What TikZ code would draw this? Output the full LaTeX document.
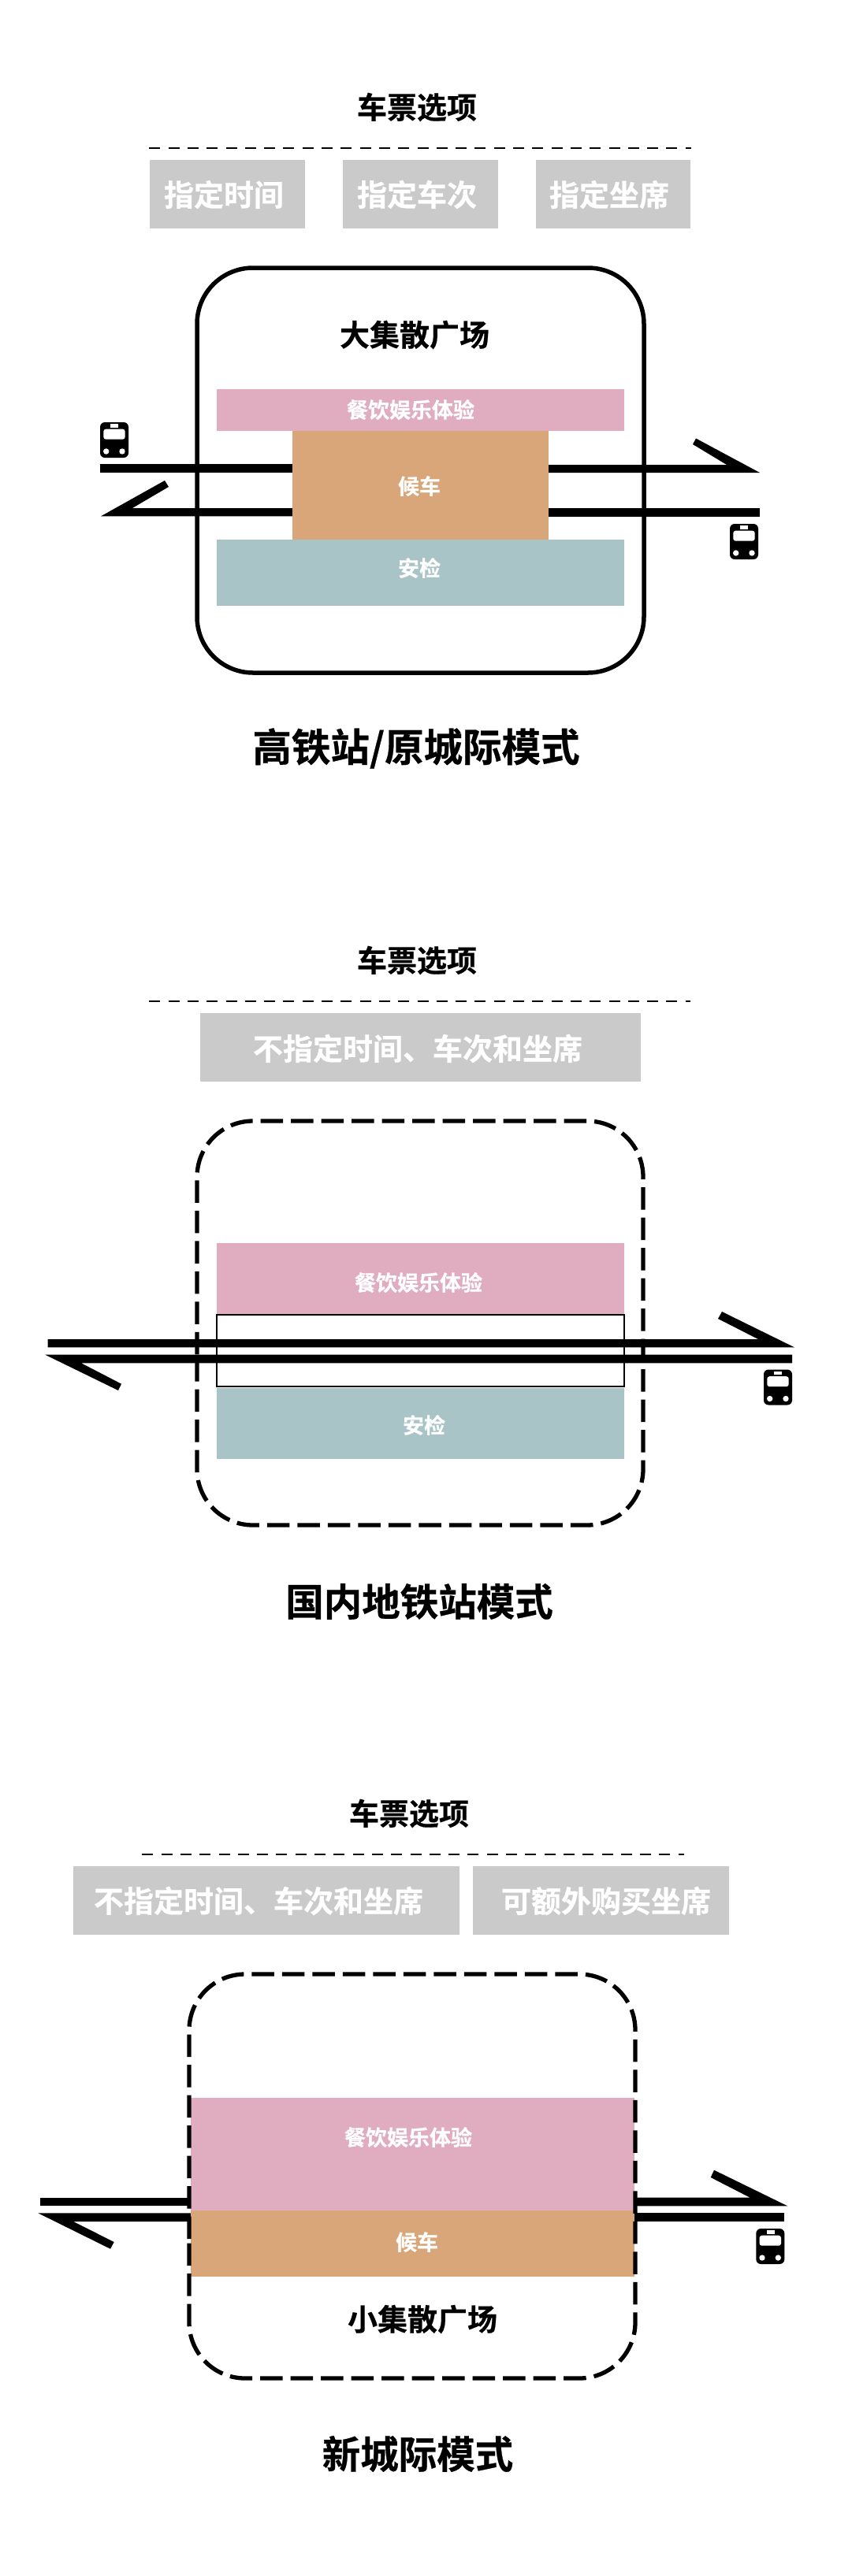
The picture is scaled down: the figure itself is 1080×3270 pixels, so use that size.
\documentclass[tikz,border=0pt]{standalone}
\usepackage{fontspec}
\setmainfont{Noto Sans CJK SC}[BoldFont=* Bold,BoldFeatures={FakeBold=0.5}]
\definecolor{pinkc}{HTML}{DFADBF}
\definecolor{orangec}{HTML}{D8A679}
\definecolor{tealc}{HTML}{A9C4C7}
\definecolor{grayc}{HTML}{CACACA}
\tikzset{
  x=1pt,y=-1pt,
  txt/.style={font=\fontsize{#1}{#1}\selectfont\bfseries,inner sep=0pt,anchor=center},
  blacktxt/.style={txt=#1,text=black},
  whitetxt/.style={txt=#1,text=white},
  optline/.style={line width=2.8pt,dash pattern=on 14pt off 10.3pt},
  solidframe/.style={line width=5.5pt,rounded corners=71pt},
  dashframe/.style={line width=5.3pt,rounded corners=71pt,dash pattern=on 28.5pt off 10pt},
  thinbox/.style={line width=2pt,draw=black,fill=white},
  trainicon/.pic={
    \fill[black,rounded corners=6pt] (0,0) rectangle (36,45);
    \fill[white] (13.3,2.3) rectangle (23.3,6.7);
    \fill[white,rounded corners=3pt] (4.3,8.7) rectangle (31.7,21.7);
    \fill[white] (7.7,37) circle (3.7);
    \fill[white] (28,37) circle (3.7);
  }
}
\begin{document}
\begin{tikzpicture}
\useasboundingbox (0,0) rectangle (1080,3270);
\fill[white] (0,0) rectangle (1080,3270);

% ---------- Section 1
\node[blacktxt=38] (t1) at (529,136) {车票选项};
\draw[optline] (189.3,188) -- (877,188);
\fill[grayc] (190,203.5) rectangle (386.5,290);
\fill[grayc] (435,203.5) rectangle (632,290);
\fill[grayc] (680,203.5) rectangle (876,290);
\node[whitetxt=38] (a1) at (284,247) {指定时间};
\node[whitetxt=38] (a2) at (529,247) {指定车次};
\node[whitetxt=38] (a3) at (773,247) {指定坐席};
% tracks
\fill (127,589.3) rectangle (380,600);
\fill (128,655.3) -- (209,610) -- (214,618) -- (168,645) -- (380,645) -- (380,655.3) -- cycle;
\fill (690,590) -- (922,590) -- (879,564) -- (883,556.5) -- (964,600) -- (690,600) -- cycle;
\fill (690,645) rectangle (964,656);
\pic at (127,536) {trainicon};
\pic at (926,665) {trainicon};
\draw[solidframe] (250,340) rectangle (817,854);
\fill[pinkc] (275,494) rectangle (792,547);
\fill[orangec] (371,547) rectangle (696,685);
\fill[tealc] (275,685) rectangle (792,769);
\node[blacktxt=38] (p1) at (526,425) {大集散广场};
\node[whitetxt=27] (b1) at (521,520) {餐饮娱乐体验};
\node[whitetxt=27] (c1) at (532,617) {候车};
\node[whitetxt=27] (d1) at (532,721) {安检};
\node[blacktxt=49.5] (m1) at (528,950) {高铁站/原城际模式};

% ---------- Section 2
\node[blacktxt=38] (t2) at (529,1219) {车票选项};
\draw[optline] (189.3,1271) -- (876,1271);
\fill[grayc] (254,1286) rectangle (813,1373);
\node[whitetxt=38] (a4) at (530,1331) {不指定时间、车次和坐席};
\fill[pinkc] (275,1578) rectangle (792,1668);
\draw[thinbox] (275.3,1669) rectangle (792,1760);
\fill[tealc] (275,1761.5) rectangle (792,1852);
\node[whitetxt=27] (b2) at (531,1628) {餐饮娱乐体验};
\node[whitetxt=27] (d2) at (538,1809) {安检};
\draw[dashframe] (250,1654) -- (250,1936) -- (816,1936) -- (816,1423) -- (250,1423) -- cycle;
\fill (60.7,1700) -- (962,1700) -- (911,1674) -- (916,1665) -- (1008,1710.3) -- (60.7,1710.3) -- cycle;
\fill (57.3,1719.7) -- (1005,1719.7) -- (1005,1730.3) -- (103,1730.3) -- (154,1756.7) -- (150,1765) -- cycle;
\pic at (969,1738.5) {trainicon};
\node[blacktxt=48.5] (m2) at (532,2033) {国内地铁站模式};

% ---------- Section 3
\node[blacktxt=38] (t3) at (519,2302) {车票选项};
\draw[optline] (180.3,2354) -- (868,2354);
\fill[grayc] (93,2369) rectangle (583,2456);
\fill[grayc] (600,2369) rectangle (925,2456);
\node[whitetxt=38] (a5) at (328,2413) {不指定时间、车次和坐席};
\node[whitetxt=38] (a6) at (769,2413) {可额外购买坐席};
\fill (51.3,2789.7) rectangle (300,2800.3);
\fill (48.3,2809.3) -- (300,2809.3) -- (300,2820) -- (93,2820) -- (144.7,2846) -- (140,2854.7) -- cycle;
\fill (780,2789.7) -- (951.7,2789.7) -- (901.7,2764) -- (906,2754.7) -- (999.3,2800.3) -- (780,2800.3) -- cycle;
\fill (780,2809.3) rectangle (995.3,2820);
\pic at (959.3,2829) {trainicon};
\fill[pinkc] (241.5,2663) rectangle (804.5,2805.5);
\fill[orangec] (241.5,2805.5) rectangle (804.5,2890);
\draw[dashframe] (240,2776.7) -- (240,3019) -- (806,3019) -- (806,2506) -- (240,2506) -- cycle;
\node[whitetxt=27] (b3) at (518,2713) {餐饮娱乐体验};
\node[whitetxt=27] (c3) at (529,2846) {候车};
\node[blacktxt=38] (p3) at (536,2944) {小集散广场};
\node[blacktxt=48.5] (m3) at (530,3115) {新城际模式};
\end{tikzpicture}
\end{document}
